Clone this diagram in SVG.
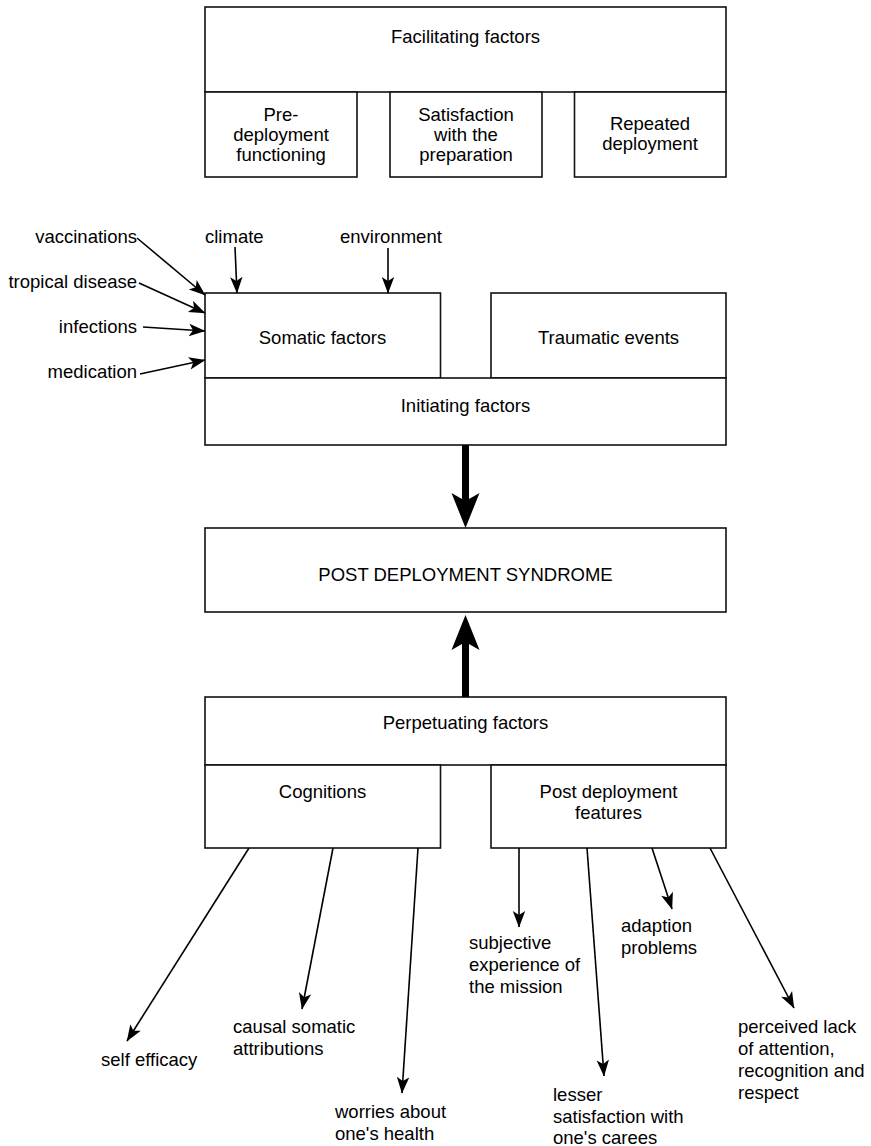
<svg xmlns="http://www.w3.org/2000/svg" width="871" height="1146" viewBox="0 0 871 1146">
<defs>
<style>
.box{fill:#fff;stroke:#111;stroke-width:1.6}
text{font-family:"Liberation Sans",Arial,Helvetica,sans-serif;font-size:18.5px;fill:#000}
.c{text-anchor:middle}
.r{text-anchor:end}
.ln{stroke:#000;stroke-width:1.6;fill:none;marker-end:url(#arr)}
.thick{stroke:#000;stroke-width:7;fill:none;marker-end:url(#big)}
</style>
<marker id="arr" viewBox="0 0 18 14" refX="16.5" refY="7" markerWidth="18" markerHeight="14" markerUnits="userSpaceOnUse" orient="auto">
<path d="M0.5,0.8 L17,7 L0.5,13.2 L4.5,7 Z" fill="#000"/>
</marker>
<marker id="big" viewBox="0 0 36 30" refX="8" refY="15" markerWidth="36" markerHeight="30" markerUnits="userSpaceOnUse" orient="auto">
<path d="M0,1 L35,15 L0,29 L8,15 Z" fill="#000"/>
</marker>
</defs>

<g id="facilitating">
<rect class="box" x="205" y="7" width="521" height="85"/>
<text class="c" x="465.5" y="43">Facilitating factors</text>
</g>
<g id="pre-deployment">
<rect class="box" x="205" y="92" width="152" height="85"/>
<text class="c" x="281" y="121">Pre-</text>
<text class="c" x="281" y="141">deployment</text>
<text class="c" x="281" y="161">functioning</text>
</g>
<g id="satisfaction">
<rect class="box" x="390" y="92" width="152" height="85"/>
<text class="c" x="466" y="121">Satisfaction</text>
<text class="c" x="466" y="141">with the</text>
<text class="c" x="466" y="161">preparation</text>
</g>
<g id="repeated">
<rect class="box" x="574.5" y="92" width="151.5" height="85"/>
<text class="c" x="650" y="130">Repeated</text>
<text class="c" x="650" y="150">deployment</text>
</g>

<g id="somatic">
<rect class="box" x="205" y="293" width="235.5" height="85"/>
<text class="c" x="322.5" y="344">Somatic factors</text>
</g>
<g id="traumatic">
<rect class="box" x="491" y="293" width="235" height="85"/>
<text class="c" x="608.5" y="344">Traumatic events</text>
</g>
<g id="initiating">
<rect class="box" x="205" y="378" width="521" height="67"/>
<text class="c" x="465.5" y="412">Initiating factors</text>
</g>

<g id="pds">
<rect class="box" x="205" y="528" width="521" height="84"/>
<text class="c" x="465.5" y="581">POST DEPLOYMENT SYNDROME</text>
</g>

<g id="perpetuating">
<rect class="box" x="205" y="697" width="521" height="68"/>
<text class="c" x="465.5" y="729">Perpetuating factors</text>
</g>
<g id="cognitions">
<rect class="box" x="205" y="765" width="235.5" height="83"/>
<text class="c" x="322.5" y="798">Cognitions</text>
</g>
<g id="post-deployment-features">
<rect class="box" x="491" y="765" width="235" height="83"/>
<text class="c" x="608.5" y="798">Post deployment</text>
<text class="c" x="608.5" y="819">features</text>
</g>

<g id="labels">
<text class="r" x="137" y="243">vaccinations</text>
<text class="r" x="137" y="288">tropical disease</text>
<text class="r" x="137" y="333">infections</text>
<text class="r" x="137" y="378">medication</text>
<text x="205" y="243">climate</text>
<text x="340" y="243">environment</text>

<text x="101" y="1066">self efficacy</text>
<text x="233" y="1033">causal somatic</text>
<text x="233" y="1055">attributions</text>
<text x="335" y="1118">worries about</text>
<text x="335" y="1140">one's health</text>

<text x="469" y="949">subjective</text>
<text x="469" y="971">experience of</text>
<text x="469" y="993">the mission</text>
<text x="621" y="932">adaption</text>
<text x="621" y="954">problems</text>
<text x="553" y="1101">lesser</text>
<text x="553" y="1123">satisfaction with</text>
<text x="553" y="1144">one's carees</text>
<text x="738" y="1033">perceived lack</text>
<text x="738" y="1055">of attention,</text>
<text x="738" y="1077">recognition and</text>
<text x="738" y="1099">respect</text>
</g>

<g id="connectors">
<line class="ln" x1="137" y1="238" x2="205" y2="295"/>
<line class="ln" x1="139" y1="283" x2="205" y2="313"/>
<line class="ln" x1="143" y1="327" x2="205" y2="331"/>
<line class="ln" x1="140" y1="374" x2="205" y2="360"/>
<line class="ln" x1="235" y1="247" x2="237" y2="293"/>
<line class="ln" x1="388" y1="248" x2="388" y2="293"/>

<line class="thick" x1="465.5" y1="445" x2="465.5" y2="501"/>
<line class="thick" x1="465.5" y1="697" x2="465.5" y2="642"/>

<line class="ln" x1="249" y1="848" x2="127" y2="1041"/>
<line class="ln" x1="333" y1="848" x2="302" y2="1009"/>
<line class="ln" x1="418" y1="848" x2="402" y2="1093"/>
<line class="ln" x1="519" y1="848" x2="519" y2="927"/>
<line class="ln" x1="587" y1="848" x2="604" y2="1076"/>
<line class="ln" x1="652" y1="848" x2="672" y2="909"/>
<line class="ln" x1="710" y1="848" x2="794" y2="1008"/>
</g>
</svg>
